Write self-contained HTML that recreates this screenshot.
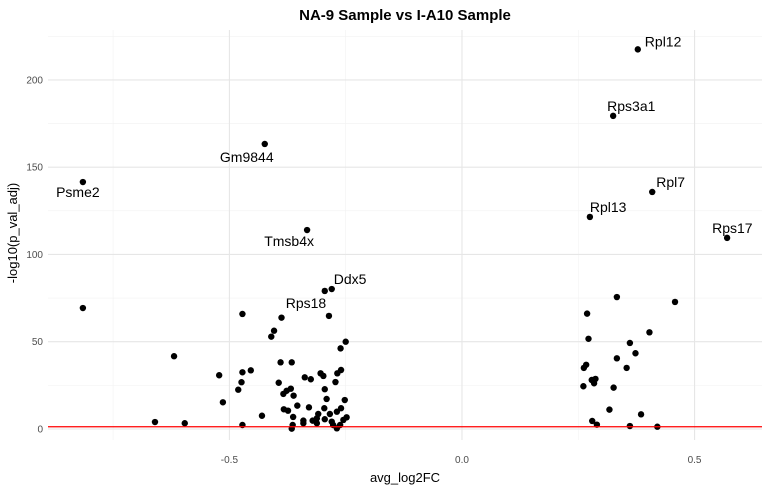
<!DOCTYPE html>
<html><head><meta charset="utf-8"><style>
body{margin:0;background:#fff;font-family:"Liberation Sans",sans-serif}
svg text{font-family:"Liberation Sans",sans-serif}
</style></head><body>
<svg id="chart" width="767" height="490" xmlns="http://www.w3.org/2000/svg">
<text x="405" y="20" text-anchor="middle" font-size="15" font-weight="bold" fill="#000">NA-9 Sample vs I-A10 Sample</text>
<g id="grid"></g><g id="ticks"></g><g id="pts"></g><g id="labels"></g>
<text x="405" y="482" text-anchor="middle" font-size="13" fill="#000">avg_log2FC</text>
<text transform="translate(17,233) rotate(-90)" text-anchor="middle" font-size="13" fill="#000">-log10(p_val_adj)</text>
</svg>
<script>
const xVals=[-0.815,-0.295,-0.472,-0.388,-0.404,-0.410,-0.250,-0.261,-0.619,-0.390,-0.366,-0.454,-0.472,-0.522,-0.260,-0.268,-0.304,-0.298,-0.338,-0.325,-0.474,-0.394,-0.272,-0.481,-0.368,-0.377,-0.384,-0.295,-0.362,-0.514,-0.291,-0.252,-0.354,-0.329,-0.383,-0.374,-0.296,-0.260,-0.430,-0.363,-0.309,-0.284,-0.269,-0.248,-0.341,-0.321,-0.312,-0.295,-0.280,-0.255,-0.660,-0.596,-0.472,-0.364,-0.341,-0.312,-0.277,-0.262,-0.366,-0.269,
0.458,0.333,0.269,0.403,0.272,0.361,0.373,0.333,0.267,0.262,0.354,0.279,0.287,0.284,0.261,0.326,0.317,0.385,0.280,0.290,0.361,0.420];
const yVals=[69.3,79.1,65.9,63.8,56.3,52.9,50.0,46.2,41.7,38.2,38.2,33.6,32.5,30.8,33.8,31.9,31.9,30.4,29.6,28.5,26.8,26.5,26.9,22.5,23.1,21.9,20.1,22.8,19.1,15.3,17.2,16.6,13.4,12.4,11.3,10.5,11.9,11.9,7.6,6.9,8.6,8.6,9.9,6.7,4.8,4.8,6.1,5.6,4.2,5.2,4.0,3.3,2.3,2.3,3.3,3.3,2.3,2.3,0.2,0.4,
72.8,75.6,66.1,55.4,51.7,49.3,43.4,40.5,36.8,35.0,35.0,28.1,28.7,26.2,24.5,23.7,11.1,8.4,4.6,2.5,1.7,1.3];
const geneNames=["Rpl12","Rps3a1","Rpl7","Rpl13","Rps17","Psme2","Gm9844","Tmsb4x","Ddx5","Rps18"];
const geneX=[0.378,0.325,0.409,0.275,0.570,-0.815,-0.424,-0.333,-0.280,-0.286];
const geneY=[217.5,179.4,135.8,121.5,109.5,141.5,163.3,114,80.2,64.8];
const xTicks=[-0.5,0.0,0.5];
const xTickLabels=["-0.5","0.0","0.5"];
const yTicks=[0,50,100,150,200];
const yTickLabels=["0","50","100","150","200"];
const threshold=1.3;

const NS="http://www.w3.org/2000/svg";
const L=48,R=762,T=30,B=440;
const xMin=-0.890,xMax=0.645,yMin=-6.3,yMax=228.6;
const X=v=>L+(v-xMin)/(xMax-xMin)*(R-L);
const Y=v=>B-(v-yMin)/(yMax-yMin)*(B-T);
function mk(tag,a,parent){const e=document.createElementNS(NS,tag);for(const k in a)e.setAttribute(k,a[k]);document.getElementById(parent).appendChild(e);return e;}
for(let v=-0.75;v<=0.6;v+=0.5){const l=mk('line',{x1:X(v),x2:X(v),y1:T,y2:B,stroke:'#f2f2f2','stroke-width':0.6},'grid');

}
for(let v=25;v<=225;v+=50){const l=mk('line',{x1:L,x2:R,y1:Y(v),y2:Y(v),stroke:'#f2f2f2','stroke-width':0.6},'grid');

}
xTicks.forEach((v,i)=>{const l=mk('line',{x1:X(v),x2:X(v),y1:T,y2:B,stroke:'#e6e6e6','stroke-width':1.1},'grid');


const t=mk('text',{x:X(v),y:463,'text-anchor':'middle','font-size':10,fill:'#4d4d4d'},'ticks');t.textContent=xTickLabels[i];

});
yTicks.forEach((v,i)=>{const l=mk('line',{x1:L,x2:R,y1:Y(v),y2:Y(v),stroke:'#e6e6e6','stroke-width':1.1},'grid');


const t=mk('text',{x:43,y:Y(v)+3.5,'text-anchor':'end','font-size':10,fill:'#4d4d4d'},'ticks');t.textContent=yTickLabels[i];

});
const allX=xVals.concat(geneX),allY=yVals.concat(geneY);
allX.forEach((v,i)=>{const c=mk('circle',{cx:X(v),cy:Y(allY[i]),r:3.2,fill:'#000'},'pts');

});
const th=mk('line',{x1:L,x2:R,y1:Y(threshold),y2:Y(threshold),stroke:'#ff0000','stroke-width':1.2},'pts');


const off=[[7,-3,'start'],[-6,-5,'start'],[4,-5,'start'],[0,-5,'start'],[-15,-5,'start'],[-5,15,'middle'],[-18,18,'middle'],[-18,16,'middle'],[2,-5,'start'],[-23,-8,'middle']];
geneNames.forEach((n,i)=>{const t=mk('text',{x:X(geneX[i])+off[i][0],y:Y(geneY[i])+off[i][1],'text-anchor':off[i][2],'font-size':14,fill:'#000'},'labels');t.textContent=n;

});
</script>
</body></html>
